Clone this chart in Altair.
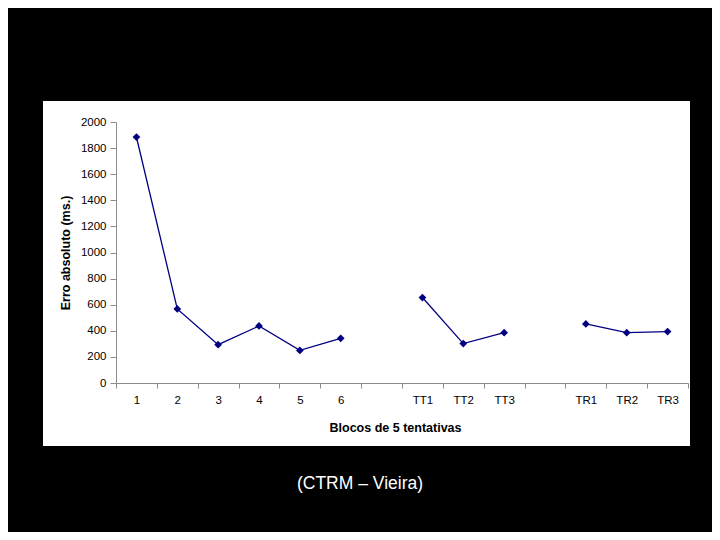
import altair as alt
import pandas as pd

# Categories along the x axis (two empty slots separate the three groups)
categories = ["1", "2", "3", "4", "5", "6", "gap1",
              "TT1", "TT2", "TT3", "gap2", "TR1", "TR2", "TR3"]

# Observed blocks and their mean absolute error (ms.)
blocks = ["1", "2", "3", "4", "5", "6", "TT1", "TT2", "TT3", "TR1", "TR2", "TR3"]
errors = [1885, 568, 294, 437, 250, 342, 655, 302, 386, 453, 386, 394]
segments = ["A", "A", "A", "A", "A", "A", "B", "B", "B", "C", "C", "C"]

y_ticks = [0, 200, 400, 600, 800, 1000, 1200, 1400, 1600, 1800, 2000]

caption = "(CTRM – Vieira)"
x_title = "Blocos de 5 tentativas"
y_title = "Erro absoluto (ms.)"

df = pd.DataFrame({"cat": blocks, "err": errors, "seg": segments})

FONT = "Liberation Sans"
LINE = "#000080"
AXIS = "#8c8c8c"

x_enc = alt.X(
    "cat:N",
    sort=categories,
    scale=alt.Scale(domain=categories, paddingInner=0, paddingOuter=0),
    axis=alt.Axis(
        title=x_title,
        labelAngle=0,
        tickBand="extent",
        tickSize=5,
        labelPadding=6,
        labelExpr="indexof(datum.label, 'gap') == 0 ? '' : datum.label",
        titlePadding=16,
        titleX=279,
        zindex=1,
    ),
)
y_enc = alt.Y(
    "err:Q",
    scale=alt.Scale(domain=[0, 2000], nice=False),
    axis=alt.Axis(
        title=y_title,
        values=y_ticks,
        format="d",
        grid=False,
        tickSize=6,
        labelPadding=4,
        titlePadding=8,
        zindex=1,
    ),
)

panel = alt.Chart(pd.DataFrame({"a": [0]})).mark_rect(color="white").encode(
    x=alt.value(-73), x2=alt.value(574), y=alt.value(-21), y2=alt.value(324)
)

caption_mark = alt.Chart(pd.DataFrame({"a": [0]})).mark_text(
    color="white", font=FONT, fontSize=17.5, align="center", baseline="middle"
).encode(x=alt.value(244), y=alt.value(362), text=alt.value(caption))

line = alt.Chart(df).mark_line(color=LINE, strokeWidth=1.3).encode(
    x=x_enc, y=y_enc, detail="seg:N"
)
pts = alt.Chart(df).mark_point(
    shape="diamond", filled=True, color=LINE, size=60, opacity=1
).encode(x=x_enc, y=y_enc)

chart = alt.layer(panel, line, pts, caption_mark).properties(
    width=572,
    height=261,
    autosize=alt.AutoSizeParams(type="none"),
    padding={"left": 108, "top": 114, "right": 24, "bottom": 149},
).configure(background="black").configure_view(stroke=None).configure_axis(
    domainColor=AXIS,
    tickColor=AXIS,
    labelColor="black",
    titleColor="black",
    labelFont=FONT,
    titleFont=FONT,
    labelFontSize=11.5,
    titleFontSize=12.5,
    titleFontWeight="bold",
    zindex=1,
)

chart.save("out.html", embed_options={"renderer": "svg", "actions": False})
